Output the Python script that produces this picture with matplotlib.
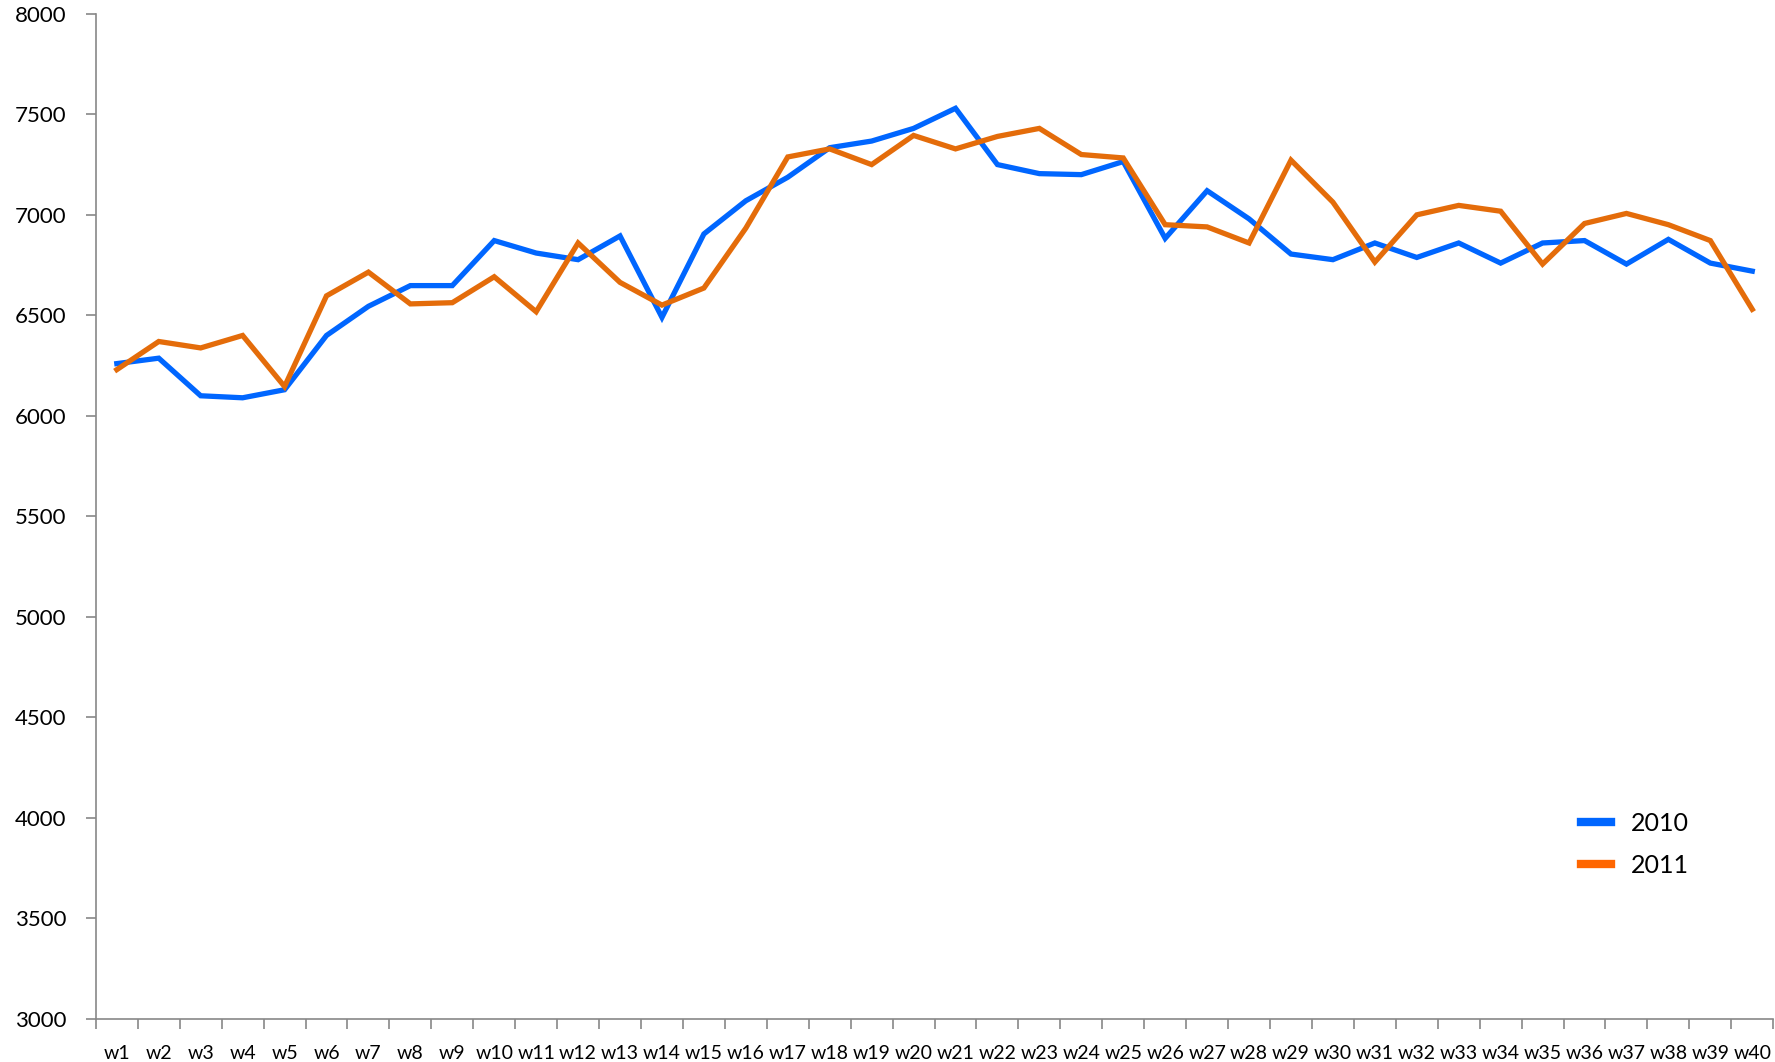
import matplotlib
matplotlib.use("Agg")
import matplotlib.pyplot as plt
from matplotlib.lines import Line2D
from matplotlib.ticker import FixedLocator, NullFormatter

plt.rcParams['font.family'] = ['Lato', 'DejaVu Sans']

weeks = [f"w{i}" for i in range(1, 41)]
series_2010 = [6260, 6287, 6100, 6090, 6130, 6400, 6545, 6648, 6648, 6872,
               6810, 6777, 6895, 6490, 6905, 7070, 7187, 7334, 7367, 7430,
               7530, 7250, 7205, 7200, 7265, 6883, 7120, 6980, 6805, 6777,
               6860, 6788, 6860, 6760, 6860, 6872, 6755, 6878, 6760, 6720]
series_2011 = [6230, 6370, 6338, 6400, 6146, 6597, 6715, 6557, 6563, 6692,
               6518, 6860, 6664, 6551, 6636, 6934, 7288, 7328, 7250, 7395,
               7328, 7390, 7430, 7300, 7283, 6951, 6940, 6860, 7272, 7063,
               6765, 7000, 7047, 7018, 6755, 6957, 7007, 6951, 6872, 6530]
series_names = ["2010", "2011"]
y_ticks = [3000, 3500, 4000, 4500, 5000, 5500, 6000, 6500, 7000, 7500, 8000]

line_colors = ["#0066FF", "#E46C0A"]
legend_colors = ["#0066FF", "#FF6600"]

fig = plt.figure(figsize=(17.75, 10.62), dpi=100)
ax = fig.add_axes([0.054, 0.0405, 0.945, 0.9465])

x = list(range(len(weeks)))
ax.plot(x, series_2010, color=line_colors[0], lw=3.8, solid_joinstyle='miter')
ax.plot(x, series_2011, color=line_colors[1], lw=3.8, solid_joinstyle='miter')

ax.set_xlim(-0.5, len(weeks) - 0.5)
ax.set_ylim(3000, 8000)
ax.set_yticks(y_ticks)
ax.set_yticklabels([str(t) for t in y_ticks])

ax.set_xticks(x)
ax.set_xticklabels(weeks)
ax.xaxis.set_minor_locator(FixedLocator([i - 0.5 for i in range(len(weeks) + 1)]))
ax.xaxis.set_minor_formatter(NullFormatter())
ax.tick_params(axis='x', which='major', length=0, pad=19, labelsize=14)
ax.tick_params(axis='x', which='minor', length=7, width=1.2, color='#888888', direction='out')
ax.tick_params(axis='y', which='major', length=7, width=1.2, color='#888888', direction='out',
               labelsize=16, pad=14)

for s in ['top', 'right']:
    ax.spines[s].set_visible(False)
for s in ['left', 'bottom']:
    ax.spines[s].set_color('#888888')
    ax.spines[s].set_linewidth(1.2)

handles = [Line2D([0], [0], color=c, lw=6) for c in legend_colors]
fig.legend(handles, series_names, loc='center left', bbox_to_anchor=(0.878, 0.205),
           frameon=False, fontsize=18, handlelength=1.2, labelspacing=0.75, handletextpad=0.8)

fig.savefig("out.png", dpi=100, facecolor='white')
